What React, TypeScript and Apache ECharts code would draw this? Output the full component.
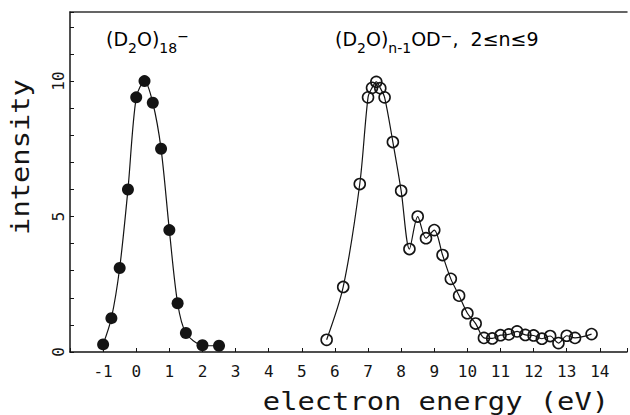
import React, { useEffect, useRef } from 'react';
import * as echarts from 'echarts';

// (D2O)18^- : filled circles
const filledX = [-1, -0.75, -0.5, -0.25, 0, 0.25, 0.5, 0.75, 1.0, 1.25, 1.5, 2.0, 2.5];
const filledY = [0.28, 1.25, 3.1, 6.0, 9.4, 10.0, 9.2, 7.5, 4.5, 1.8, 0.7, 0.25, 0.23];

// (D2O)n-1 OD^- : open circles
const openX = [5.75, 6.25, 6.75, 7.0, 7.12, 7.25, 7.37, 7.5, 7.75, 8.0, 8.25, 8.5, 8.75, 9.0, 9.25, 9.5, 9.75, 10.0, 10.25, 10.5, 10.75, 11.0, 11.25, 11.5, 11.75, 12.0, 12.25, 12.5, 12.75, 13.0, 13.25, 13.75];
const openY = [0.45, 2.4, 6.2, 9.4, 9.75, 9.97, 9.74, 9.4, 7.75, 5.95, 3.8, 5.0, 4.2, 4.5, 3.58, 2.7, 2.08, 1.43, 1.05, 0.52, 0.5, 0.62, 0.65, 0.76, 0.63, 0.61, 0.49, 0.59, 0.33, 0.6, 0.52, 0.66];

const xLabelValues = [-1, 0, 1, 2, 3, 4, 5, 6, 7, 8, 9, 10, 11, 12, 13, 14];
const yLabelValues = [0, 5, 10];

const titleLeftRich = '{n|(D}{s|2}{n|O)}{s|18}{p|−}';
const titleRightRich = '{n|(D}{s|2}{n|O)}{s|n-1}{n|OD}{p|−}{n|,  2≤n≤9}';
const xName = 'electron energy (eV)';
const yName = 'intensity';

const MONO = '"DejaVu Sans Mono", "Liberation Mono", monospace';
const SANS = '"DejaVu Sans", "Liberation Sans", sans-serif';
const INK = '#141414';

const rich = {
  n: { fontFamily: SANS, fontSize: 19, lineHeight: 26, verticalAlign: 'top', color: INK },
  s: { fontFamily: SANS, fontSize: 14, lineHeight: 26, verticalAlign: 'bottom', color: INK },
  p: { fontFamily: SANS, fontSize: 14, lineHeight: 26, verticalAlign: 'top', color: INK },
};

export default function App() {
  const ref = useRef<HTMLDivElement>(null);
  useEffect(() => {
    const chart = echarts.init(ref.current!, null, { renderer: 'svg' });
    const zip = (xs: number[], ys: number[]) => xs.map((x, i) => [x, ys[i]]);
    chart.setOption({
      animation: false,
      backgroundColor: '#ffffff',
      grid: { left: 70, top: 12, width: 560, height: 340 },
      xAxis: [
        {
          type: 'value',
          min: -2,
          max: 14.82,
          interval: 1,
          axisLine: { show: true, onZero: false, lineStyle: { color: INK, width: 1.5 } },
          axisTick: { show: true, inside: true, length: 4, lineStyle: { color: INK, width: 1 } },
          axisLabel: {
            margin: 11,
            fontFamily: MONO,
            fontSize: 16,
            color: INK,
            formatter: (v: number) => (xLabelValues.includes(Math.round(v * 100) / 100) ? String(v) : ''),
          },
          splitLine: { show: false },
        },
        {
          type: 'value',
          position: 'top',
          min: -2,
          max: 14.82,
          axisLine: { show: true, onZero: false, lineStyle: { color: '#333', width: 1.5 } },
          axisTick: { show: false },
          axisLabel: { show: false },
          splitLine: { show: false },
        },
      ],
      yAxis: {
        type: 'value',
        min: 0,
        max: 12.55,
        interval: 1,
        axisLine: { show: true, onZero: false, lineStyle: { color: INK, width: 1.5 } },
        axisTick: { show: true, inside: true, length: 4, lineStyle: { color: INK, width: 1 } },
        axisLabel: {
          rotate: 90,
          margin: 4,
          fontFamily: MONO,
          fontSize: 16,
          color: INK,
          formatter: (v: number) => (yLabelValues.includes(Math.round(v * 100) / 100) ? String(v) : ''),
        },
        splitLine: { show: false },
      },
      series: [
        {
          type: 'line',
          name: '(D2O)18-',
          data: zip(filledX, filledY),
          smooth: 0.3,
          symbol: 'circle',
          symbolSize: 12,
          itemStyle: { color: INK },
          lineStyle: { color: INK, width: 1.2 },
        },
        {
          type: 'line',
          name: '(D2O)n-1OD-',
          data: zip(openX, openY),
          smooth: 0.3,
          symbol: 'circle',
          symbolSize: 11,
          itemStyle: { color: 'rgba(255,255,255,0)', borderColor: INK, borderWidth: 1.6 },
          lineStyle: { color: INK, width: 1.2 },
        },
      ],
      graphic: [
        {
          type: 'text',
          x: 106,
          y: 42,
          style: { text: titleLeftRich, rich, align: 'left', verticalAlign: 'middle' },
        },
        {
          type: 'text',
          x: 335,
          y: 42,
          style: { text: titleRightRich, rich, align: 'left', verticalAlign: 'middle' },
        },
        {
          type: 'text',
          x: 609,
          y: 401,
          scaleX: 1.15,
          style: { text: xName, fontFamily: MONO, fontSize: 25, fill: INK, align: 'right', verticalAlign: 'middle' },
        },
        {
          type: 'text',
          x: 20,
          y: 157,
          rotation: Math.PI / 2,
          scaleX: 1.15,
          style: { text: yName, fontFamily: MONO, fontSize: 25, fill: INK, align: 'center', verticalAlign: 'middle' },
        },
      ],
    });
    return () => chart.dispose();
  }, []);
  return (
    <div
      ref={ref}
      style={{ position: 'absolute', left: 0, top: 0, width: 630, height: 415, background: '#fff' }}
    />
  );
}
